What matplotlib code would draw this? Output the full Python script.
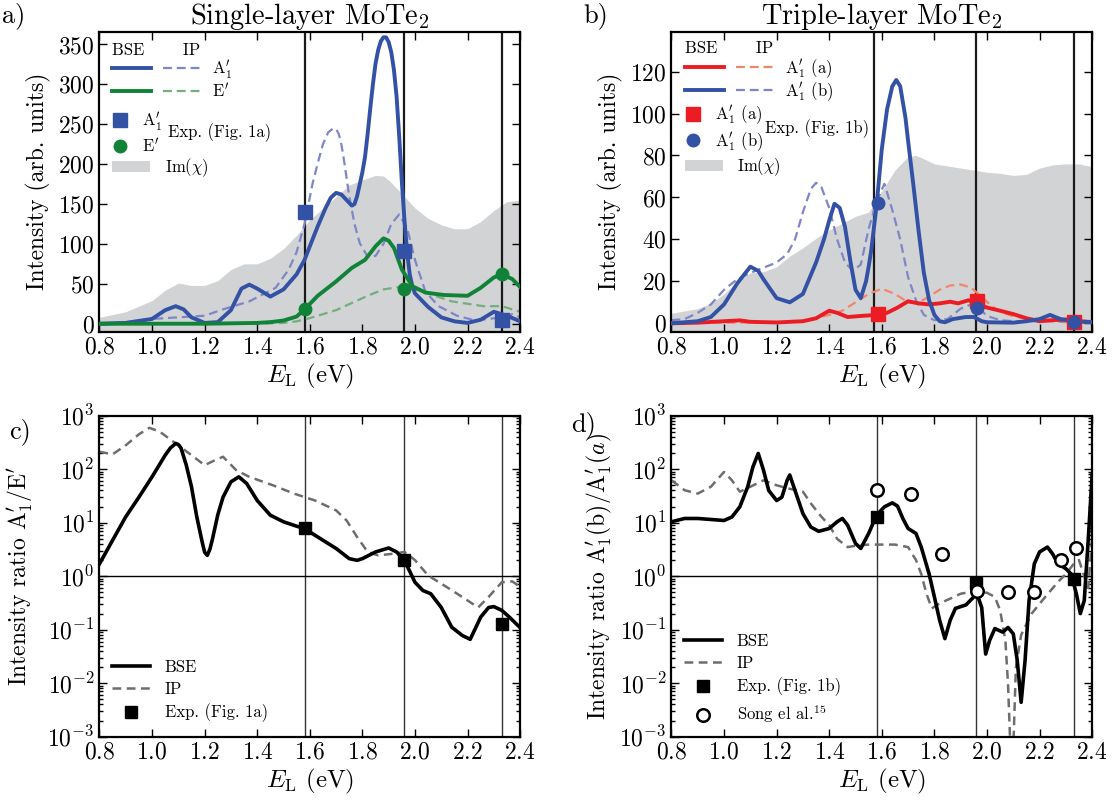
import matplotlib
matplotlib.use("Agg")
import matplotlib.pyplot as plt
from matplotlib.legend_handler import HandlerTuple
from matplotlib.patches import Patch

plt.rcParams.update({
    "font.family": "cmr10",
    "mathtext.fontset": "cm",
    "axes.formatter.use_mathtext": True,
    "axes.linewidth": 1.6,
    "xtick.direction": "in",
    "ytick.direction": "in",
    "xtick.top": True,
    "ytick.right": True,
    "xtick.major.size": 6,
    "ytick.major.size": 6,
    "xtick.minor.size": 3,
    "ytick.minor.size": 3,
    "xtick.labelsize": 17,
    "ytick.labelsize": 17,
})

BLUE = "#3352a6"
LBLUE = "#7f86c8"
GREEN = "#118338"
LGREEN = "#74ad7e"
RED = "#ec1c24"
LRED = "#f2866a"
GRAY = "#d1d3d4"

# laser energies (eV)
lasers = [1.58, 1.96, 2.33]
lasers_b = [1.57, 1.96, 2.33]

# ---- (a) single layer ----
e_a1_bse = [0.8, 0.9, 1.0, 1.05, 1.09, 1.12, 1.15, 1.2, 1.25, 1.3, 1.34, 1.37, 1.4, 1.45,
            1.5, 1.55, 1.58, 1.6, 1.63, 1.66, 1.68, 1.7, 1.72, 1.74, 1.76, 1.77, 1.78,
            1.79, 1.8, 1.81, 1.82, 1.83, 1.84, 1.85, 1.86, 1.87, 1.88, 1.89, 1.9, 1.91,
            1.92, 1.93, 1.94, 1.95, 1.96, 1.97, 1.98, 1.99, 2.0, 2.05, 2.1, 2.15, 2.2,
            2.25, 2.3, 2.35, 2.4]
a1_bse = [0, 1, 6, 17, 22, 18, 8, 1, 2, 17, 44, 49, 44, 34,
          43, 62, 80, 97, 122, 145, 158, 164, 162, 155, 148, 150, 160,
          175, 190, 209, 238, 270, 300, 326, 343, 354, 359, 359, 353, 340,
          318, 285, 235, 178, 130, 90, 62, 47, 38, 21, 8, 3, 1,
          5, 15, 10, 3]

e_a1_ip = [0.8, 0.9, 1.0, 1.1, 1.2, 1.27, 1.37, 1.47, 1.52, 1.55, 1.58, 1.61, 1.63, 1.65,
           1.67, 1.69, 1.7, 1.71, 1.72, 1.73, 1.75, 1.77, 1.79, 1.82, 1.85, 1.88, 1.91,
           1.94, 1.97, 2.0, 2.04, 2.09, 2.16, 2.23, 2.28, 2.33, 2.37, 2.4]
a1_ip = [0, 2, 6, 8, 10, 18, 28, 45, 68, 90, 125, 175, 201, 225,
         240, 245, 244, 238, 225, 205, 160, 125, 101, 84, 85, 100, 125,
         137, 120, 80, 40, 22, 10, 4, 6, 8, 12, 8]

e_e_bse = [0.8, 1.0, 1.2, 1.4, 1.45, 1.5, 1.55, 1.58, 1.63, 1.7, 1.76, 1.81, 1.85, 1.88,
           1.9, 1.92, 1.95, 1.99, 2.04, 2.11, 2.2, 2.25, 2.3, 2.33, 2.37, 2.4]
e_bse = [0, 0, 0, 1, 2, 4, 9, 18, 35, 53, 70, 80, 97, 107,
         104, 95, 68, 47, 39, 36, 35, 45, 58, 62, 56, 46]

e_e_ip = [0.8, 1.0, 1.2, 1.4, 1.5, 1.55, 1.6, 1.65, 1.7, 1.76, 1.82, 1.88, 1.96, 2.04,
          2.14, 2.26, 2.33, 2.4]
e_ip = [0, 0, 0, 0, 1, 3, 7, 12, 17, 26, 35, 43, 47, 39,
        28, 22, 22, 15]

e_chi_a = [0.8, 0.9, 1.0, 1.05, 1.1, 1.15, 1.2, 1.25, 1.3, 1.35, 1.4, 1.45, 1.5, 1.55,
           1.6, 1.65, 1.7, 1.75, 1.8, 1.85, 1.88, 1.9, 1.95, 2.0, 2.05, 2.1, 2.15, 2.2,
           2.25, 2.3, 2.35, 2.4]
chi_a = [8, 15, 29, 42, 51, 48, 48, 54, 68, 75, 75, 82, 94, 111,
         130, 145, 159, 174, 180, 186, 185, 180, 163, 145, 132, 124, 119, 119,
         128, 142, 153, 155]

exp_a_a1 = [140, 91, 5]
exp_a_e = [18, 44, 62]

# ---- (b) triple layer ----
e_b_bse = [0.8, 0.9, 0.95, 1.0, 1.05, 1.1, 1.13, 1.15, 1.2, 1.25, 1.3, 1.35, 1.38, 1.4,
           1.42, 1.44, 1.46, 1.48, 1.5, 1.52, 1.54, 1.55, 1.56, 1.58, 1.6, 1.62, 1.64,
           1.655, 1.67, 1.69, 1.7, 1.72, 1.74, 1.76, 1.78, 1.8, 1.82, 1.84, 1.87, 1.92,
           1.95, 1.98, 2.0, 2.1, 2.15, 2.2, 2.24, 2.28, 2.33, 2.4]
b_bse = [0, 1, 3, 9, 19, 27, 25, 21, 12, 10, 14, 29, 40, 49,
         57, 55, 46, 30, 16, 12, 20, 27, 35, 56, 83, 102, 113,
         116, 113, 98, 87, 66, 44, 24, 11, 4, 1, 0.5, 2, 3,
         3, 1, 0.5, 0.3, 1, 2, 4, 2, 1, 0.5]

e_b_ip = [0.8, 0.85, 0.9, 0.95, 1.0, 1.05, 1.1, 1.15, 1.2, 1.24, 1.27, 1.3, 1.33, 1.35,
          1.37, 1.4, 1.43, 1.46, 1.49, 1.52, 1.55, 1.58, 1.61, 1.64, 1.67, 1.7, 1.73,
          1.76, 1.8, 1.85, 1.9, 1.95, 1.98, 2.0, 2.05, 2.1, 2.2, 2.3, 2.4]
b_ip = [1.5, 2, 5, 9, 16, 21, 24, 26.5, 29, 33, 40, 53, 64, 67,
        65, 55, 40, 29, 25, 28, 45, 58, 66.5, 54, 40, 22, 11,
        4, 1.5, 2, 7, 9.5, 6, 3.5, 1.5, 1, 1, 1, 1]

e_a_bse = [0.8, 0.9, 1.0, 1.06, 1.1, 1.2, 1.3, 1.35, 1.4, 1.43, 1.47, 1.52, 1.58, 1.62,
           1.66, 1.7, 1.74, 1.78, 1.82, 1.86, 1.89, 1.93, 1.97, 2.0, 2.05, 2.1, 2.15,
           2.2, 2.25, 2.3, 2.35, 2.4]
a_bse = [0, 0.3, 1, 1.4, 0.7, 0.4, 1, 2.4, 6, 5, 3, 3.5, 4, 5,
         7.5, 10.5, 9.5, 9, 9.5, 10.3, 9.5, 11, 9, 7.5, 6, 4.4, 2.4,
         1, 1.5, 1.8, 1, 0.6]

e_a_ip = [0.8, 1.0, 1.2, 1.3, 1.4, 1.45, 1.5, 1.55, 1.6, 1.65, 1.7, 1.73, 1.77, 1.82,
          1.86, 1.9, 1.94, 1.98, 2.02, 2.06, 2.11, 2.19, 2.25, 2.3, 2.4]
a_ip = [0.3, 0.3, 0.4, 1, 4, 6, 10, 14, 16.5, 14, 10, 9.5, 12, 16,
        18, 18.5, 17, 12.5, 8, 5, 3, 1.9, 1, 0.5, 0.3]

e_chi_b = [0.8, 0.9, 0.95, 1.0, 1.05, 1.1, 1.15, 1.2, 1.25, 1.3, 1.35, 1.4, 1.45, 1.5,
           1.55, 1.6, 1.65, 1.7, 1.73, 1.75, 1.8, 1.85, 1.9, 1.95, 2.0, 2.05, 2.1,
           2.15, 2.2, 2.25, 2.3, 2.35, 2.4]
chi_b = [4.8, 7, 9.5, 14, 20, 24, 24.6, 27, 32, 36, 40.5, 44.5, 47.7, 51,
         53, 63, 73, 79.5, 80, 79, 76, 75, 74, 73, 72, 71.5, 70.5,
         71, 74, 75.5, 76, 76, 74.7]

exp_b_e = [1.585, 1.963, 2.33]
exp_b_a = [4.5, 10.5, 0.8]
exp_b_b = [57.5, 7.5, 0.5]

# ---- (c) ratio single layer ----
e_c_bse = [0.8, 0.85, 0.9, 0.95, 1.0, 1.05, 1.07, 1.09, 1.1, 1.11, 1.13, 1.15, 1.17, 1.19,
           1.2, 1.21, 1.22, 1.23, 1.25, 1.27, 1.3, 1.33, 1.36, 1.4, 1.45, 1.5, 1.55,
           1.58, 1.6, 1.65, 1.7, 1.75, 1.78, 1.8, 1.85, 1.9, 1.93, 1.96, 2.0, 2.03,
           2.06, 2.1, 2.14, 2.18, 2.21, 2.25, 2.28, 2.3, 2.33, 2.36, 2.4]
c_bse = [1.7, 4.7, 12.9, 30, 72, 183, 250, 303, 290, 250, 120, 47, 13, 4.5,
         2.8, 2.45, 3.2, 5, 14, 30, 58, 72, 54, 26, 13.8, 10.4, 8.6,
         7.8, 6.7, 4.7, 3.3, 2.13, 1.98, 2.13, 2.84, 3.37, 2.84, 1.98, 0.77, 0.54,
         0.47, 0.26, 0.111, 0.078, 0.066, 0.172, 0.26, 0.27, 0.23, 0.17, 0.109]

e_c_ip = [0.8, 0.85, 0.9, 0.95, 0.99, 1.03, 1.09, 1.15, 1.2, 1.24, 1.27, 1.32, 1.37, 1.46,
          1.54, 1.62, 1.7, 1.74, 1.78, 1.82, 1.86, 1.92, 1.96, 2.0, 2.05, 2.12, 2.19,
          2.24, 2.28, 2.33, 2.37, 2.4]
c_ip = [212, 190, 280, 450, 595, 500, 303, 183, 119, 148, 171, 96, 72, 50,
        35, 26, 17, 11, 5.4, 2.84, 2.45, 2.64, 2.84, 2.0, 1.03, 0.63, 0.38,
        0.26, 0.41, 0.77, 0.8, 0.63]

exp_c = [7.8, 2.0, 0.126]

# ---- (d) ratio triple layer ----
e_d_bse = [0.8, 0.85, 0.9, 1.0, 1.03, 1.06, 1.09, 1.11, 1.13, 1.15, 1.17, 1.2, 1.22, 1.24,
           1.25, 1.27, 1.3, 1.33, 1.36, 1.4, 1.43, 1.45, 1.47, 1.5, 1.52, 1.55, 1.58,
           1.61, 1.64, 1.66, 1.68, 1.7, 1.73, 1.75, 1.78, 1.8, 1.82, 1.84, 1.86, 1.88,
           1.9, 1.92, 1.95, 1.96, 1.98, 1.995, 2.01, 2.03, 2.06, 2.08, 2.1, 2.115, 2.13,
           2.145, 2.16, 2.18, 2.2, 2.23, 2.25, 2.27, 2.3, 2.32, 2.34, 2.355, 2.37, 2.385, 2.4]
d_bse = [10.4, 12, 12, 11, 12.8, 19.8, 47, 111, 197, 96, 40, 26, 30, 62,
         78, 40, 14.8, 8.3, 6.9, 7.8, 10.4, 12, 9, 4.1, 3.3, 6.3, 13.8,
         19.8, 23.5, 20.4, 12, 7.8, 6.3, 3.5, 1.1, 0.41, 0.15, 0.068, 0.15, 0.25,
         0.27, 0.29, 0.41, 0.5, 0.26, 0.035, 0.063, 0.105, 0.09, 0.11, 0.084, 0.027, 0.0044,
         0.027, 0.35, 1.7, 2.84, 3.5, 2.6, 1.7, 1.38, 1.1, 0.47, 0.2, 0.35, 4.7, 78]

e_d_ip = [0.8, 0.85, 0.9, 0.95, 1.0, 1.03, 1.06, 1.1, 1.15, 1.2, 1.25, 1.3, 1.33, 1.37,
          1.4, 1.43, 1.47, 1.5, 1.55, 1.6, 1.65, 1.7, 1.73, 1.75, 1.77, 1.79, 1.82,
          1.86, 1.9, 1.95, 2.0, 2.03, 2.05, 2.07, 2.08, 2.095, 2.11, 2.13, 2.17, 2.21,
          2.27, 2.3, 2.33, 2.35, 2.37, 2.385, 2.4]
d_ip = [62, 40.5, 35, 47, 89, 62, 38, 47, 62, 50, 43, 38, 23, 13,
        9, 5, 3.5, 3.7, 3.9, 3.9, 3.9, 3.5, 2, 1.1, 0.47, 0.25, 0.31,
        0.38, 0.47, 0.52, 0.49, 0.41, 0.23, 0.063, 0.0098, 0.0001, 0.02, 0.08, 0.2, 0.35,
        0.78, 1.1, 1.7, 2.0, 1.0, 0.6, 5.4]

exp_d = [12.9, 0.75, 0.9]
e_song = [1.582, 1.71, 1.829, 1.963, 2.08, 2.18, 2.28, 2.34]
song = [41, 35, 2.6, 0.52, 0.5, 0.5, 2.0, 3.3]

fig = plt.figure(figsize=(11.15, 8.01), dpi=100)
ax_a = fig.add_axes([0.0892, 0.5859, 0.3773, 0.3745])
ax_b = fig.add_axes([0.6022, 0.5859, 0.3773, 0.3745])
ax_c = fig.add_axes([0.0892, 0.0803, 0.3773, 0.4007])
ax_d = fig.add_axes([0.6022, 0.0803, 0.3773, 0.4007])

ip_style = dict(lw=1.6, ls=(0, (4, 2.2)))
xlab = r"$E_\mathrm{L}$ (eV)"
LEG = dict(borderpad=0, borderaxespad=0, frameon=False, fontsize=12)

# ---------- (a) ----------
ylim_a = (-10, 366)
ax_a.fill_between(e_chi_a, ylim_a[0], chi_a, color=GRAY, lw=0, zorder=0)
for x in lasers:
    ax_a.axvline(x, color="#1a1a1a", lw=1.6, zorder=1)
l_a1_ip, = ax_a.plot(e_a1_ip, a1_ip, color=LBLUE, **ip_style, zorder=2)
l_e_ip, = ax_a.plot(e_e_ip, e_ip, color=LGREEN, **ip_style, zorder=2)
l_a1_bse, = ax_a.plot(e_a1_bse, a1_bse, color=BLUE, lw=2.8, zorder=3)
l_e_bse, = ax_a.plot(e_e_bse, e_bse, color=GREEN, lw=2.8, zorder=3)
m_a1, = ax_a.plot(lasers, exp_a_a1, "s", color=BLUE, ms=9.5, zorder=4)
m_e, = ax_a.plot(lasers, exp_a_e, "o", color=GREEN, ms=9, zorder=4)
ax_a.set_xlim(0.8, 2.4)
ax_a.set_ylim(*ylim_a)
ax_a.set_yticks(range(0, 351, 50))
ax_a.set_ylabel("Intensity (arb. units)", fontsize=17, labelpad=5)
ax_a.set_xlabel(xlab, fontsize=18, labelpad=2)
ax_a.set_title(r"Single-layer MoTe$_2$", fontsize=20.5, pad=5)

tup = {tuple: HandlerTuple(ndivide=None, pad=0.75)}
leg1 = ax_a.legend([(l_a1_bse, l_a1_ip), (l_e_bse, l_e_ip)],
                   [r"A$_1'$", r"E$'$"], handler_map=tup, handlelength=5.4,
                   handletextpad=0.6, loc="upper left", bbox_to_anchor=(0.03, 0.965),
                   title="BSE       IP", title_fontsize=12, alignment="left",
                   labelspacing=0.05, **LEG)
ax_a.add_artist(leg1)
leg2 = ax_a.legend([m_a1, m_e], [r"A$_1'$", r"E$'$"], handlelength=1.0, numpoints=1,
                   handletextpad=0.8, loc="center left", bbox_to_anchor=(0.03, 0.664),
                   labelspacing=0.25, **LEG)
ax_a.add_artist(leg2)
ax_a.legend([Patch(color=GRAY, lw=0)], [r"Im$(\chi)$"], handlelength=2.3,
            handletextpad=0.85, loc="center left", bbox_to_anchor=(0.03, 0.546), **LEG)
ax_a.text(0.163, 0.662, "Exp. (Fig. 1a)", transform=ax_a.transAxes, fontsize=12,
          va="center", ha="left")

# ---------- (b) ----------
ylim_b = (-4, 139)
ax_b.fill_between(e_chi_b, ylim_b[0], chi_b, color=GRAY, lw=0, zorder=0)
for x in lasers_b:
    ax_b.axvline(x, color="#1a1a1a", lw=1.6, zorder=1)
l_a_ip, = ax_b.plot(e_a_ip, a_ip, color=LRED, **ip_style, zorder=2)
l_b_ip, = ax_b.plot(e_b_ip, b_ip, color=LBLUE, **ip_style, zorder=2)
l_a_bse, = ax_b.plot(e_a_bse, a_bse, color=RED, lw=2.8, zorder=3)
l_b_bse, = ax_b.plot(e_b_bse, b_bse, color=BLUE, lw=2.8, zorder=3)
m_a, = ax_b.plot(exp_b_e, exp_b_a, "s", color=RED, ms=9.5, zorder=4)
m_b, = ax_b.plot(exp_b_e, exp_b_b, "o", color=BLUE, ms=9, zorder=5)
ax_b.set_xlim(0.8, 2.4)
ax_b.set_ylim(*ylim_b)
ax_b.set_yticks(range(0, 121, 20))
ax_b.set_ylabel("Intensity (arb. units)", fontsize=17, labelpad=5)
ax_b.set_xlabel(xlab, fontsize=18, labelpad=2)
ax_b.set_title(r"Triple-layer MoTe$_2$", fontsize=20.5, pad=5)

leg1 = ax_b.legend([(l_a_bse, l_a_ip), (l_b_bse, l_b_ip)],
                   [r"A$_1'$ (a)", r"A$_1'$ (b)"], handler_map=tup, handlelength=5.4,
                   handletextpad=0.6, loc="upper left", bbox_to_anchor=(0.032, 0.97),
                   title="BSE       IP", title_fontsize=12, alignment="left",
                   labelspacing=0.05, **LEG)
ax_b.add_artist(leg1)
leg2 = ax_b.legend([m_a, m_b], [r"A$_1'$ (a)", r"A$_1'$ (b)"], handlelength=1.0,
                   numpoints=1, handletextpad=0.8, loc="center left",
                   bbox_to_anchor=(0.032, 0.678), labelspacing=0.25, **LEG)
ax_b.add_artist(leg2)
ax_b.legend([Patch(color=GRAY, lw=0)], [r"Im$(\chi)$"], handlelength=2.3,
            handletextpad=0.85, loc="center left", bbox_to_anchor=(0.032, 0.55), **LEG)
ax_b.text(0.222, 0.678, "Exp. (Fig. 1b)", transform=ax_b.transAxes, fontsize=12,
          va="center", ha="left")

# ---------- (c) ----------
for x in lasers:
    ax_c.axvline(x, color="#333333", lw=1.0, zorder=1)
ax_c.axhline(1, color="black", lw=1.0, zorder=1)
ax_c.plot(e_c_ip, c_ip, color="#6d6d6d", lw=1.8, ls=(0, (3.5, 2.2)), label="IP", zorder=2)
ax_c.plot(e_c_bse, c_bse, color="black", lw=2.6, label="BSE", zorder=3)
ax_c.plot(lasers, exp_c, "s", color="black", ms=9, label="Exp. (Fig. 1a)", zorder=4)
ax_c.set_yscale("log")
ax_c.set_xlim(0.8, 2.4)
ax_c.set_ylim(1e-3, 1e3)
ax_c.set_ylabel(r"Intensity ratio A$_1'$/E$'$", fontsize=17, labelpad=9)
ax_c.set_xlabel(xlab, fontsize=18, labelpad=2)
h, l = ax_c.get_legend_handles_labels()
ax_c.legend([h[1], h[0], h[2]], [l[1], l[0], l[2]], loc="lower left",
            bbox_to_anchor=(0.03, 0.045), handlelength=2.3, handletextpad=0.85,
            labelspacing=0.4, **LEG)

# ---------- (d) ----------
for x in lasers:
    ax_d.axvline(x, color="#333333", lw=1.0, zorder=1)
ax_d.axhline(1, color="black", lw=1.0, zorder=1)
ax_d.plot(e_d_ip, d_ip, color="#6d6d6d", lw=1.8, ls=(0, (3.5, 2.2)), label="IP", zorder=2)
ax_d.plot(e_d_bse, d_bse, color="black", lw=2.6, label="BSE", zorder=3)
ax_d.plot(lasers, exp_d, "s", color="black", ms=9, label="Exp. (Fig. 1b)", zorder=4)
ax_d.plot(e_song, song, "o", mfc="white", mec="black", mew=1.8, ms=9,
          label=r"Song el al.$^{15}$", zorder=4)
ax_d.set_yscale("log")
ax_d.set_xlim(0.8, 2.4)
ax_d.set_ylim(1e-3, 1e3)
ax_d.set_ylabel(r"Intensity ratio A$_1'$(b)/A$_1'(a)$", fontsize=17, labelpad=4)
ax_d.set_xlabel(xlab, fontsize=18, labelpad=2)
h, l = ax_d.get_legend_handles_labels()
ax_d.legend([h[1], h[0], h[2], h[3]], [l[1], l[0], l[2], l[3]], loc="lower left",
            bbox_to_anchor=(0.03, 0.035), handlelength=2.3, handletextpad=0.85,
            labelspacing=0.4, **LEG)

for ax in (ax_a, ax_b, ax_c, ax_d):
    ax.set_xticks([0.8, 1.0, 1.2, 1.4, 1.6, 1.8, 2.0, 2.2, 2.4])
    ax.tick_params(which="both", width=1.0)

for lab, x, y in (("a)", 0.002, 0.997), ("b)", 0.523, 0.997),
                  ("c)", 0.008, 0.478), ("d)", 0.512, 0.487)):
    fig.text(x, y, lab, fontsize=19, ha="left", va="top")

fig.savefig("out.png", dpi=100)
